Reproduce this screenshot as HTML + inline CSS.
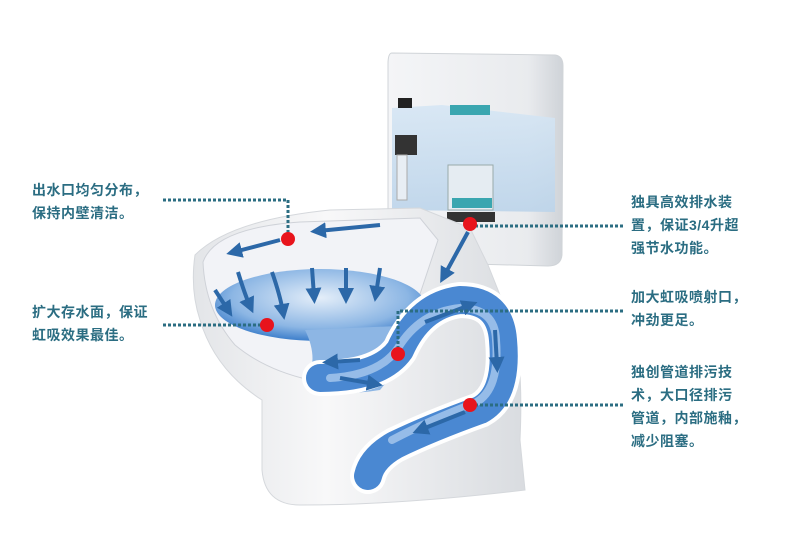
<!DOCTYPE html>
<html><head><meta charset="utf-8"><style>
html,body{margin:0;padding:0;background:#fff;}
body{width:790px;height:559px;position:relative;overflow:hidden;font-family:"Liberation Sans","Noto Sans CJK SC",sans-serif;}
.t{position:absolute;color:#2b6d82;font-size:14px;line-height:23px;font-weight:bold;white-space:nowrap;letter-spacing:0.5px;}
svg{position:absolute;left:0;top:0;}
</style></head><body>
<svg width="790" height="559" viewBox="0 0 790 559">
<defs>
<linearGradient id="tank" x1="0" y1="0" x2="1" y2="0"><stop offset="0" stop-color="#f4f5f7"/><stop offset="0.8" stop-color="#e9ebee"/><stop offset="1" stop-color="#cfd3d8"/></linearGradient>
<linearGradient id="tw" x1="0" y1="0" x2="0" y2="1"><stop offset="0" stop-color="#d6e6f4"/><stop offset="1" stop-color="#bcd4ea"/></linearGradient>
<radialGradient id="water" cx="0.5" cy="0.4" r="0.6"><stop offset="0" stop-color="#e4eef9"/><stop offset="0.7" stop-color="#8cb6e4"/><stop offset="1" stop-color="#3e7fcb"/></radialGradient>
<linearGradient id="body" x1="0" y1="0" x2="1" y2="0"><stop offset="0" stop-color="#e3e5e8"/><stop offset="0.4" stop-color="#f8f8f9"/><stop offset="1" stop-color="#d9dce0"/></linearGradient>
<marker id="ah" markerWidth="4" markerHeight="4" refX="2" refY="2" orient="auto"><path d="M0,0 L4,2 L0,4Z" fill="#2c68a8"/></marker>
</defs>
<path d="M392,53 L555,55 Q563,56 563,66 L562,255 Q561,266 548,266 L400,262 Q388,262 388,250 L388,64 Q388,53 392,53Z" fill="url(#tank)" stroke="#d0d4d8"/>
<path d="M392,108 L442,105 L555,118 L555,212 L392,210Z" fill="url(#tw)" opacity="0.9"/>
<rect x="395" y="135" width="22" height="20" fill="#333"/>
<rect x="397" y="155" width="10" height="45" fill="#e8eef4" stroke="#aaa"/>
<rect x="398" y="98" width="14" height="10" fill="#222"/>
<rect x="450" y="105" width="40" height="10" fill="#3aa6b0"/>
<rect x="448" y="165" width="45" height="45" fill="#e5ecf2" stroke="#9aa"/>
<rect x="452" y="198" width="40" height="10" fill="#3aa6b0"/>
<rect x="447" y="212" width="48" height="10" fill="#333"/>
<path d="M195,255 Q230,220 330,210 L420,208 L470,228 L488,265 L500,295 Q525,330 520,440 L525,490 Q400,505 300,505 Q265,505 262,470 L262,400 Q215,370 200,320 Q190,290 195,255Z" fill="url(#body)" stroke="#d5d8dc"/>
<path d="M203,262 Q215,228 300,222 L420,218 L438,240 L408,330 L395,350 Q360,380 310,380 Q265,370 235,345 Q205,310 203,262Z" fill="#f2f3f7" stroke="#cfd2d8"/>
<ellipse cx="320" cy="305" rx="105" ry="36" fill="url(#water)"/>
<path d="M305,330 Q320,360 305,385 Q330,398 380,390 L405,360 L420,325 Z" fill="#8db6e4"/>
<g fill="none" stroke-linecap="round" stroke-linejoin="round">
<path d="M320,378 Q380,378 400,350 Q420,305 460,300 Q500,300 503,340 Q508,395 480,410 Q430,428 395,445 Q372,458 368,476" stroke="#fff" stroke-width="36"/>
<path d="M320,378 Q380,378 400,350 Q420,305 460,300 Q500,300 503,340 Q508,395 480,410 Q430,428 395,445 Q372,458 368,476" stroke="#4a88d2" stroke-width="28"/>
<path d="M330,378 Q380,375 398,348 Q420,312 460,308 Q495,308 496,340 Q500,390 475,403 Q430,420 392,440" stroke="#a9c9ee" stroke-width="8" opacity="0.8"/>
</g>
<g stroke="#2c68a8" stroke-width="4" fill="none" marker-end="url(#ah)">
<path d="M238,272 Q245,295 250,306"/><path d="M272,272 Q280,295 283,312"/><path d="M312,268 L314,296"/><path d="M346,268 L346,296"/><path d="M380,268 L376,294"/>
<path d="M280,240 L234,252"/><path d="M380,225 L318,231"/><path d="M468,232 L444,276"/>
<path d="M215,290 L228,310"/><path d="M425,322 L470,305"/><path d="M495,330 L497,365"/><path d="M465,412 L420,430"/><path d="M360,360 L330,362"/><path d="M340,378 L375,384"/>
</g>
<g stroke="#2b6d82" stroke-width="3" stroke-dasharray="3,2" fill="none">
<path d="M163,200 L288,200 L288,238"/>
<path d="M163,325 L267,325"/>
<path d="M470,226 L625,226"/>
<path d="M398,354 L398,311 L625,311"/>
<path d="M470,405 L625,405"/>
</g>
<g fill="#e8141c">
<circle cx="288" cy="239" r="7"/><circle cx="267" cy="325" r="7"/><circle cx="470" cy="224" r="7"/><circle cx="398" cy="354" r="7"/><circle cx="470" cy="405" r="7"/>
</g>
</svg>
<div class="t" style="left:32px;top:179px;">出水口均匀分布，<br>保持内壁清洁。</div>
<div class="t" style="left:32px;top:301px;">扩大存水面，保证<br>虹吸效果最佳。</div>
<div class="t" style="left:631px;top:191px;">独具高效排水装<br>置，保证3/4升超<br>强节水功能。</div>
<div class="t" style="left:631px;top:286px;">加大虹吸喷射口，<br>冲劲更足。</div>
<div class="t" style="left:631px;top:361px;">独创管道排污技<br>术，大口径排污<br>管道，内部施釉，<br>减少阻塞。</div>
</body></html>
